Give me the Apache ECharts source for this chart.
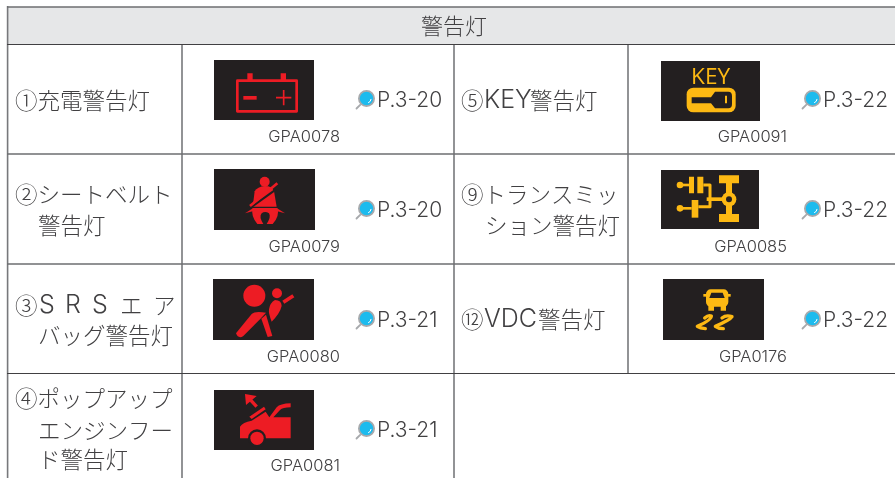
<!DOCTYPE html>
<html><head><meta charset="utf-8">
<style>html,body{margin:0;padding:0;background:#fff}#c{width:895px;height:478px}</style>
<script src="https://cdn.jsdelivr.net/npm/echarts@6/dist/echarts.min.js"></script>
</head><body><div id="c"></div>
<script>
const tableTitle = '警告灯';
const leftNames = [['①充電警告灯'], ['②シートベルト', '警告灯'], ['③', 'バッグ警告灯'], ['④ポップアップ', 'エンジンフー', 'ド警告灯']];
const srsChars = ['③', 'S', 'R', 'S', 'エ', 'ア'];
const rightNames = [[''], ['⑨トランスミッ', 'ション警告灯'], ['']];
const keyName = ['⑤', 'KEY', '警告灯'];
const vdcName = ['⑫', 'VDC', '警告灯'];
const leftPages = ['P.3-20', 'P.3-20', 'P.3-21', 'P.3-21'];
const rightPages = ['P.3-22', 'P.3-22', 'P.3-22'];
const leftCodes = ['GPA0078', 'GPA0079', 'GPA0080', 'GPA0081'];
const rightCodes = ['GPA0091', 'GPA0085', 'GPA0176'];
const keyWord = 'KEY';

// layout
const INK = '#414042', RED = '#ed1c24', AMB = '#fdb913', DARK = '#231f20', CJK = '"Noto Sans CJK JP"', LAT = 'Inter, "Open Sans", sans-serif';
const rowMid = [100, 210, 320, 430];
const lineY = [[100], [194, 225], [305, 335], [398, 430, 459]];
const lineYR = [[100], [194, 225], [319]];
const srsX = [15, 39, 65, 92, 120, 153];
const g = [];
const txt = (text, x, y, size, family, align, weight, fill) => g.push({type:'text', silent:true, z:5, style:{text, x, y, fontSize:size, fontFamily:family, fontWeight:weight||300, fill:fill||INK, textAlign:align||'left', textVerticalAlign:'middle'}});
const hl = (x1, x2, y, c, w) => g.push({type:'line', silent:true, z:3, shape:{x1, y1:y, x2, y2:y}, style:{stroke:c, lineWidth:w}});
const vl = (x, y1, y2, c, w) => g.push({type:'line', silent:true, z:2, shape:{x1:x, y1, x2:x, y2}, style:{stroke:c, lineWidth:w}});

g.push({type:'rect', silent:true, z:1, shape:{x:7, y:7, width:888, height:37}, style:{fill:'#e6e7e8'}});
hl(7, 895, 7, '#6d6e71', 1.6); hl(7, 895, 44.5, '#414042', 1.2);
hl(7, 895, 154, '#6d6e71', 1.4); hl(7, 895, 264, '#6d6e71', 1.4); hl(7, 895, 373.5, '#414042', 1.2);
vl(7.6, 6, 478, '#77787b', 1.6); vl(182, 44, 478, '#77787b', 1.6); vl(454, 44, 478, '#77787b', 1.6); vl(628, 44, 374, '#77787b', 1.6);
txt(tableTitle, 454, 26, 22, CJK, 'center');

leftNames.forEach((lines, i) => lines.forEach((t, j) => {
  if (i === 2 && j === 0) srsChars.forEach((c, k) => txt(c, srsX[k], lineY[2][0], k >= 1 && k <= 3 ? 25 : 22.5, k >= 1 && k <= 3 ? LAT : CJK));
  else txt(t, j === 0 ? 15 : 38, lineY[i][j], 22.5, CJK);
}));
rightNames.forEach((lines, i) => lines.forEach((t, j) => { if (t) txt(t, j === 0 ? 461 : 485, lineYR[i][j], 22.5, CJK); }));
[[keyName, 100, 530], [vdcName, 319, 538]].forEach(([parts, y, x3]) => {
  txt(parts[0], 461, y, 22.5, CJK);
  txt(parts[1], 484, y, 25, LAT);
  txt(parts[2], x3, y, 22.5, CJK);
});

function magnifier(cx, cy) {
  g.push({type:'line', silent:true, z:6, shape:{x1:cx-6.3, y1:cy+6.3, x2:cx-10, y2:cy+10}, style:{stroke:'#a7a9ac', lineWidth:1.8, lineCap:'round'}});
  g.push({type:'circle', silent:true, z:6, shape:{cx, cy, r:7.6}, style:{fill:'#1cbbee', stroke:'#a7a9ac', lineWidth:1.8}});
  g.push({type:'arc', silent:true, z:7, shape:{cx, cy, r:4.6, startAngle:0.1, endAngle:1.2}, style:{stroke:'#fff', fill:null, lineWidth:1}});
}
leftPages.forEach((t, i) => { magnifier(366.5, rowMid[i] - 1.5); txt(t, 377, rowMid[i] + 1, 21, LAT); });
rightPages.forEach((t, i) => { magnifier(812.5, [98.5, 208.5, 318.5][i]); txt(t, 823, [101, 211, 321][i], 21, LAT); });
leftCodes.forEach((t, i) => txt(t, 340, [136.7, 246.7, 356.7, 466][i], 16.5, LAT, 'right'));
rightCodes.forEach((t, i) => txt(t, 787, [136.7, 246.7, 356.7][i], 16.5, LAT, 'right'));

// icon plates
const plates = [[214,60,100,60],[214,169,101,61],[213,279,101,61],[214,390,100,60],[661,61,99,60],[661,170,98,59],[663,279,101,61]];
plates.forEach(p => g.push({type:'rect', silent:true, z:4, shape:{x:p[0], y:p[1], width:p[2], height:p[3]}, style:{fill:DARK}}));

let shapeCount = 0;
const reg = d => { const name = 'iconShape' + (shapeCount++); echarts.graphic.registerShape(name, echarts.graphic.extendPath(d, {})); return name; };
const icon = (ox, oy, children) => g.push({type:'group', silent:true, x:ox, y:oy, scaleX:1/3, scaleY:1/3, children:children.map(c => Object.assign({silent:true, z:6}, c))});
const P = (d, fill) => ({type:reg(d), shape:{}, style:{fill}});
const S = (d, stroke, w, cap) => ({type:reg(d), shape:{}, style:{fill:null, stroke, lineWidth:w, lineCap:cap||'butt', lineJoin:'round'}});
const C = (cx, cy, r, fill) => ({type:'circle', shape:{cx, cy, r}, style:{fill}});

// battery
icon(200, 50, [
  S('M112 92H290V184H112Z', RED, 8),
  P('M142 70H158V90H142ZM242 70H258V90H242Z', RED),
  P('M130 138H170V149H130Z', RED),
  S('M228 143H274M251 120V166', RED, 5)
]);
// seat belt
icon(200, 50, [
  C(194, 395, 15, RED),
  P('M164 424Q172 410 195 408Q216 408 222 424L230 470L158 470Z', RED),
  P('M158 474L232 474Q240 498 218 522H200Q214 500 207 490Q195 482 185 490Q176 500 190 522H172Q152 498 158 474Z', RED),
  P('M135 490L160 474L164 482Z', RED), P('M255 490L230 474L226 482Z', RED),
  S('M228 418L156 470', DARK, 6),
  S('M232 400L150 468', RED, 8),
  S('M228 392L144 462', DARK, 0.01)
]);
// airbag
icon(200, 270, [
  C(163, 77, 33, RED), C(231, 70, 15, RED),
  P('M225 90Q245 90 245 108Q240 130 215 155Q205 130 207 118Q210 98 225 90Z', RED),
  S('M250 97L280 77', RED, 11),
  P('M108 190L155 132Q165 122 198 128L180 148L130 198Q115 208 108 190Z', RED),
  P('M184 146L198 134L217 198L203 201Z', RED)
]);
// hood
icon(200, 270, [
  P('M135 372L170 378L138 405Z', RED), S('M150 388L170 410', RED, 10),
  P('M148 440L192 410L197 418L155 447Z', RED),
  P('M120 508V470Q128 456 155 452L197 425L208 442L230 412Q240 401 272 400V412Q248 412 240 420L220 442H272V505H120Z', RED),
  C(171, 505, 27, DARK), C(171, 505, 20, RED)
]);
// key
icon(640, 50, [
  {type:'text', style:{text:keyWord, x:212, y:82, fontSize:68, fontFamily:'"Open Sans", sans-serif', fontWeight:400, fill:AMB, textAlign:'center', textVerticalAlign:'middle'}},
  {type:'rect', shape:{x:140, y:113, width:147, height:74, r:20}, style:{fill:AMB}},
  P('M155 142H213L225 125H265Q276 125 276 138V162Q276 175 265 175H225L213 160H155Z', DARK),
  P('M255 137H261V160H255Z', AMB)
]);
// transmission
icon(640, 50, [
  P('M237 376H297V400H276V492H297V516H237V492H258V400H237Z', AMB),
  C(267, 448, 22, AMB), C(267, 448, 9, DARK),
  P('M200 442H250V453H200Z', AMB),
  C(120, 405, 10, AMB), C(120, 475, 10, AMB),
  P('M120 401H147V409H120Z', AMB),
  P('M147 380H162V430H147ZM172 380H190V430H172Z', AMB),
  S('M190 405H210V470H175', AMB, 9),
  P('M120 471H155V479H120Z', AMB),
  P('M155 450H175V503H155Z', AMB)
]);
// VDC
icon(640, 270, [
  {type:'rect', shape:{x:198, y:58, width:67, height:52, r:14}, style:{fill:AMB}},
  P('M190 72H272V80H190Z', AMB),
  P('M214 68H248L254 84H208Z', DARK),
  P('M205 108H222V122H205ZM242 108H258V122H242Z', AMB),
  S('M194 144Q205 134 214 138Q215 150 172 169Q180 175 196 176', AMB, 10, 'round'),
  S('M246 144Q258 134 276 140Q270 150 226 169Q235 176 250 176', AMB, 10, 'round')
]);

echarts.init(document.getElementById('c')).setOption({animation:false, backgroundColor:'#fff', graphic:{elements:g}});
</script></body></html>
